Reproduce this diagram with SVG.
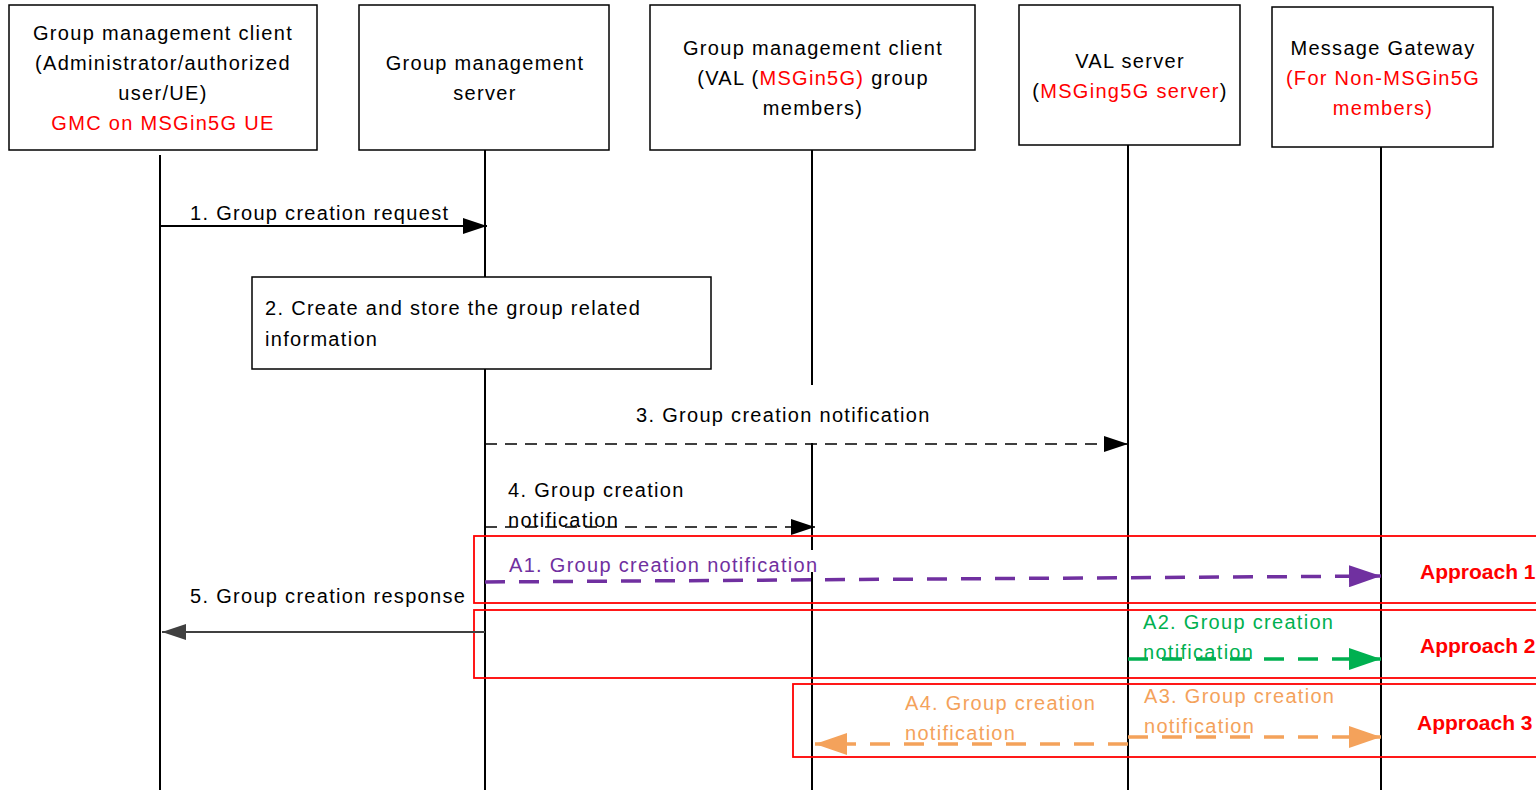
<svg xmlns="http://www.w3.org/2000/svg" width="1536" height="790" viewBox="0 0 1536 790">
<style>
text{font-family:"Liberation Sans",Arial,sans-serif;font-size:20px;letter-spacing:1.3px;fill:#000}
.red{fill:#FF0000}
.purple{fill:#7030A0}
.green{fill:#00B050}
.orange{fill:#F4A25B}
.appr{fill:#FF0000;font-weight:bold;letter-spacing:0;font-size:21px}
.box{fill:#fff;stroke:#000;stroke-width:1.5}
.life{stroke:#000;stroke-width:2;fill:none}
.grp{fill:none;stroke:#FF0000;stroke-width:1.8}
.solid{stroke:#000;stroke-width:2;fill:none}
.dash{stroke:#000;stroke-width:1.5;stroke-dasharray:12 8;fill:none}
.bigdash{stroke-width:3.5;stroke-dasharray:20 14;fill:none}
</style>
<defs>
<marker id="ahBlack" markerUnits="userSpaceOnUse" viewBox="0 0 24 16" refX="24" refY="8" markerWidth="24" markerHeight="16" orient="auto"><path d="M0,0 L24,8 L0,16 z" fill="#000"/></marker>
<marker id="ahGray" markerUnits="userSpaceOnUse" viewBox="0 0 24 16" refX="24" refY="8" markerWidth="24" markerHeight="16" orient="auto"><path d="M0,0 L24,8 L0,16 z" fill="#404040"/></marker>
<marker id="ahPurple" markerUnits="userSpaceOnUse" viewBox="0 0 32 22" refX="32" refY="11" markerWidth="32" markerHeight="22" orient="auto"><path d="M0,0 L32,11 L0,22 z" fill="#7030A0"/></marker>
<marker id="ahGreen" markerUnits="userSpaceOnUse" viewBox="0 0 32 22" refX="32" refY="11" markerWidth="32" markerHeight="22" orient="auto"><path d="M0,0 L32,11 L0,22 z" fill="#00B050"/></marker>
<marker id="ahOrange" markerUnits="userSpaceOnUse" viewBox="0 0 32 22" refX="32" refY="11" markerWidth="32" markerHeight="22" orient="auto"><path d="M0,0 L32,11 L0,22 z" fill="#F4A25B"/></marker>
</defs>
<rect width="1536" height="790" fill="#fff"/>

<g id="lifelines">
<line class="life" x1="160" y1="155" x2="160" y2="790"/>
<line class="life" x1="485" y1="145" x2="485" y2="790"/>
<line class="life" x1="812" y1="150" x2="812" y2="385"/>
<line class="life" x1="812" y1="443" x2="812" y2="550"/>
<line class="life" x1="812" y1="572" x2="812" y2="790"/>
<line class="life" x1="1128" y1="145" x2="1128" y2="790"/>
<line class="life" x1="1381" y1="147" x2="1381" y2="790"/>
</g>

<g id="node-gmc-admin">
<rect class="box" x="9" y="5" width="308" height="145"/>
<text x="163" y="40" text-anchor="middle">Group management client</text>
<text x="163" y="70" text-anchor="middle">(Administrator/authorized</text>
<text x="163" y="100" text-anchor="middle">user/UE)</text>
<text x="163" y="130" text-anchor="middle" class="red">GMC on MSGin5G UE</text>
</g>

<g id="node-gms">
<rect class="box" x="359" y="5" width="250" height="145"/>
<text x="485" y="70" text-anchor="middle">Group management</text>
<text x="485" y="100" text-anchor="middle">server</text>
</g>

<g id="node-gmc-members">
<rect class="box" x="650" y="5" width="325" height="145"/>
<text x="813" y="55" text-anchor="middle">Group management client</text>
<text x="813" y="85" text-anchor="middle">(VAL (<tspan class="red">MSGin5G)</tspan> group</text>
<text x="813" y="115" text-anchor="middle">members)</text>
</g>

<g id="node-val">
<rect class="box" x="1019" y="5" width="221" height="140"/>
<text x="1130" y="68" text-anchor="middle">VAL server</text>
<text x="1130" y="98" text-anchor="middle">(<tspan class="red">MSGing5G server</tspan>)</text>
</g>

<g id="node-gateway">
<rect class="box" x="1272" y="7" width="221" height="140"/>
<text x="1383" y="55" text-anchor="middle">Message Gateway</text>
<text x="1383" y="85" text-anchor="middle" class="red">(For Non-MSGin5G</text>
<text x="1383" y="115" text-anchor="middle" class="red">members)</text>
</g>

<g id="node-step2">
<rect class="box" x="252" y="277" width="459" height="92"/>
<text x="265" y="315">2. Create and store the group related</text>
<text x="265" y="346">information</text>
</g>

<g id="approach-boxes">
<rect class="grp" x="474" y="536" width="1070" height="67"/>
<rect class="grp" x="474" y="610" width="1070" height="68"/>
<rect class="grp" x="793" y="684" width="751" height="73"/>
<text class="appr" x="1420" y="579">Approach 1</text>
<text class="appr" x="1420" y="653">Approach 2</text>
<text class="appr" x="1417" y="730">Approach 3</text>
</g>

<g id="connectors">
<line class="solid" x1="160" y1="226" x2="487" y2="226" marker-end="url(#ahBlack)"/>
<text x="190" y="220">1. Group creation request</text>

<line class="dash" x1="485" y1="444" x2="1128" y2="444" marker-end="url(#ahBlack)"/>
<text x="636" y="422">3. Group creation notification</text>

<line class="dash" x1="485" y1="527" x2="815" y2="527" marker-end="url(#ahBlack)"/>
<text x="508" y="497">4. Group creation</text>
<text x="508" y="527">notification</text>

<line class="bigdash" stroke="#7030A0" x1="485" y1="582" x2="1381" y2="576" marker-end="url(#ahPurple)"/>
<text class="purple" x="509" y="572">A1. Group creation notification</text>

<line stroke="#404040" stroke-width="2" x1="485" y1="632" x2="162" y2="632" marker-end="url(#ahGray)"/>
<text x="190" y="603">5. Group creation response</text>

<line class="bigdash" stroke="#00B050" x1="1128" y1="659" x2="1381" y2="659" marker-end="url(#ahGreen)"/>
<text class="green" x="1143" y="629">A2. Group creation</text>
<text class="green" x="1143" y="659">notification</text>

<line class="bigdash" stroke="#F4A25B" x1="1128" y1="737" x2="1381" y2="737" marker-end="url(#ahOrange)"/>
<text class="orange" x="1144" y="703">A3. Group creation</text>
<text class="orange" x="1144" y="733">notification</text>

<line class="bigdash" stroke="#F4A25B" x1="1128" y1="744" x2="815" y2="744" marker-end="url(#ahOrange)"/>
<text class="orange" x="905" y="710">A4. Group creation</text>
<text class="orange" x="905" y="740">notification</text>
</g>
</svg>
